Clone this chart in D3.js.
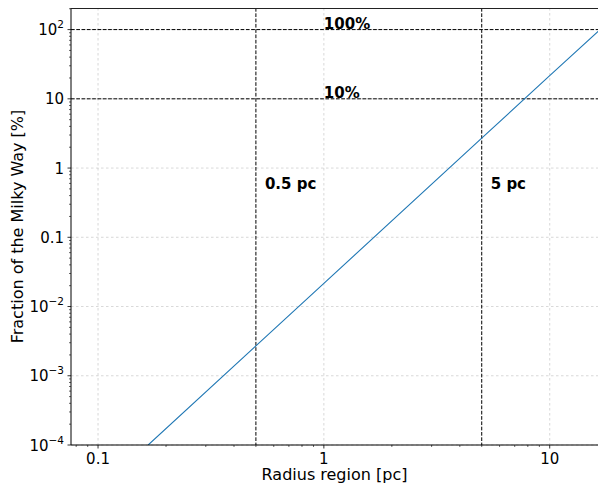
<!DOCTYPE html>
<html><head><meta charset="utf-8">
<script src="https://cdn.jsdelivr.net/npm/d3@7"></script>
<style>body{margin:0;background:#fff}svg{font-family:"DejaVu Sans",sans-serif}</style>
</head><body><svg id="c" width="598" height="483"></svg>
<script>
const radius = [0.1667, 0.5, 1, 5, 10, 16.7];
const fraction = [0.0001, 0.0027, 0.0216, 2.7, 21.6, 100];
const xTicks = [0.1, 1, 10];
const xTickLabels = ["0.1", "1", "10"];
const yTicks = [1e-4, 1e-3, 1e-2, 0.1, 1, 10, 100];
const yTickLabels = [["10","−4"],["10","−3"],["10","−2"],["0.1"],["1"],["10"],["10","2"]];
const hLines = [100, 10];
const hLabels = ["100%", "10%"];
const vLines = [0.5, 5];
const vLabels = ["0.5 pc", "5 pc"];

const svg = d3.select("#c");
const L = 71, R = 600, T = 8, B = 445;
const x = d3.scaleLog().domain([0.0759, 16.7]).range([L, R]);
const y = d3.scaleLog().domain([1e-4, 205]).range([B, T]);

svg.append("defs").append("clipPath").attr("id","clip").append("rect").attr("x",L).attr("y",T).attr("width",R-L).attr("height",B-T);

// grid
const g = svg.append("g");
xTicks.forEach(v => g.append("line").attr("x1",x(v)).attr("x2",x(v)).attr("y1",T).attr("y2",B)
  .attr("stroke","#b0b0b0").attr("stroke-width",0.8).attr("stroke-dasharray","2.5,2.5").attr("opacity",0.6));
yTicks.forEach(v => g.append("line").attr("x1",L).attr("x2",R).attr("y1",y(v)).attr("y2",y(v))
  .attr("stroke","#b0b0b0").attr("stroke-width",0.8).attr("stroke-dasharray","2.5,2.5").attr("opacity",0.6));

// reference lines
hLines.forEach(v => g.append("line").attr("x1",L).attr("x2",R).attr("y1",y(v)).attr("y2",y(v))
  .attr("stroke","#000").attr("stroke-width",1).attr("stroke-dasharray","3.7,1.6"));
vLines.forEach(v => g.append("line").attr("x1",x(v)).attr("x2",x(v)).attr("y1",T).attr("y2",B)
  .attr("stroke","#000").attr("stroke-width",1).attr("stroke-dasharray","3.7,1.6"));

// data line
const pts = radius.map((r,i)=>[r,fraction[i]]);
svg.append("path").attr("clip-path","url(#clip)").datum(pts)
  .attr("d", d3.line().x(d=>x(d[0])).y(d=>y(d[1])))
  .attr("fill","none").attr("stroke","#1f77b4").attr("stroke-width",1.1);

// texts
hLabels.forEach((t,i)=> svg.append("text").attr("x",x(1)).attr("y",y(hLines[i])-0.5).text(t)
  .attr("font-size",15).attr("font-weight","bold"));
vLabels.forEach((t,i)=> svg.append("text").attr("x",x(vLines[i])+9).attr("y",y(1)+21).text(t)
  .attr("font-size",15).attr("font-weight","bold"));

// axes
const ax = svg.append("g");
ax.append("line").attr("x1",L).attr("x2",L).attr("y1",T).attr("y2",B).attr("stroke","#000").attr("stroke-width",1);
ax.append("line").attr("x1",L).attr("x2",R).attr("y1",B).attr("y2",B).attr("stroke","#000").attr("stroke-width",1);
ax.append("line").attr("x1",L).attr("x2",R).attr("y1",T+0.5).attr("y2",T+0.5).attr("stroke","#222").attr("stroke-width",1);

for (let d=-2; d<=1; d++) for (let k=2;k<=9;k++){ const v=k*Math.pow(10,d); if(x(v)>=L && x(v)<=R)
  ax.append("line").attr("x1",x(v)).attr("x2",x(v)).attr("y1",B).attr("y2",B+2).attr("stroke","#000").attr("stroke-width",0.6);}
xTicks.forEach((v,i)=>{ ax.append("line").attr("x1",x(v)).attr("x2",x(v)).attr("y1",B).attr("y2",B+3.5).attr("stroke","#000").attr("stroke-width",0.8);
  ax.append("text").attr("x",x(v)).attr("y",B+19).attr("text-anchor","middle").attr("font-size",15).text(xTickLabels[i]);});
for (let d=-4; d<=2; d++) for (let k=2;k<=9;k++){ const v=k*Math.pow(10,d); if(y(v)>=T && y(v)<=B)
  ax.append("line").attr("x1",L-2).attr("x2",L).attr("y1",y(v)).attr("y2",y(v)).attr("stroke","#000").attr("stroke-width",0.6);}
yTicks.forEach((v,i)=>{ ax.append("line").attr("x1",L-3.5).attr("x2",L).attr("y1",y(v)).attr("y2",y(v)).attr("stroke","#000").attr("stroke-width",0.8);
  const lab = yTickLabels[i];
  const t = ax.append("text").attr("x",L-7).attr("y",y(v)+5.5).attr("text-anchor","end").attr("font-size",15);
  t.append("tspan").text(lab[0]);
  if (lab.length>1) t.append("tspan").attr("dy",-7).attr("font-size",10.5).text(lab[1]);
});

svg.append("text").attr("x",(L+598)/2).attr("y",480).attr("text-anchor","middle").attr("font-size",16).text("Radius region [pc]");
svg.append("text").attr("transform",`translate(23,${(T+B)/2}) rotate(-90)`).attr("text-anchor","middle").attr("font-size",16).text("Fraction of the Milky Way [%]");
</script></body></html>
